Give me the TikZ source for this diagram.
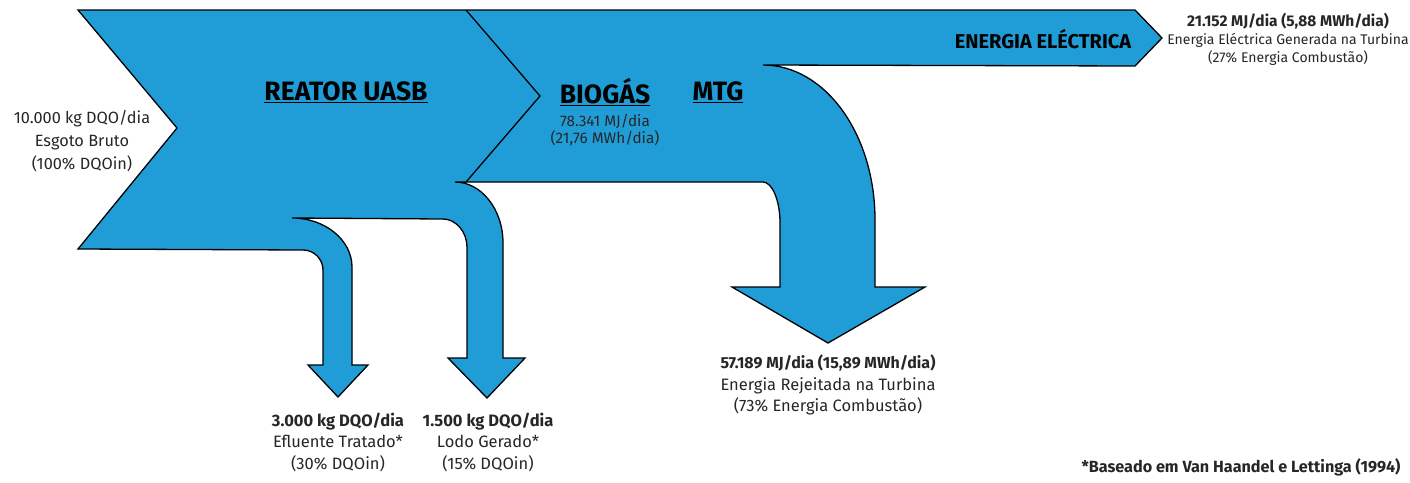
\documentclass[tikz,border=0pt]{standalone}
\usepackage{fontspec}
\setmainfont{Fira Sans}
\definecolor{flowblue}{RGB}{32,157,215}
\begin{document}
\begin{tikzpicture}[x=1pt,y=-1pt,
  flow/.style={fill=flowblue,draw=black,line width=1.3pt,line join=miter},
  lbl/.style={inner sep=0pt,align=center,text=black!85},
  title/.style={inner sep=0pt,font=\fontsize{26.5}{30}\selectfont\bfseries}]
\useasboundingbox (0,0) rectangle (1410,482);
% main sankey outline
\path[flow] (78,10) -- (1135,10) -- (1162,38) -- (1135,66) -- (763,65)
  .. controls (825,65) and (875,134) .. (875,220)
  -- (875,287) -- (925,287) -- (828,343) -- (732,287) -- (780,287) -- (780,223)
  .. controls (780,200) and (772,182) .. (763,182)
  -- (455,182)
  .. controls (481,182) and (503,209) .. (503,243)
  -- (503,358) -- (525,358) -- (487,398) -- (448,358) -- (467,358) -- (467,247)
  .. controls (467,232) and (456,219) .. (443,219)
  -- (292,218)
  .. controls (325,218) and (352,240) .. (352,267)
  -- (352,365) -- (368,365) -- (338,397) -- (308,365) -- (323,365) -- (323,270)
  .. controls (323,259) and (314,250) .. (303,250)
  -- (78,249) -- (177,128) -- cycle;
% reactor chevron tip
\draw[line width=1.3pt,line join=miter] (466,10) -- (540,96) -- (466,182);
% titles
\node[title] (reator) at (346,92) {\underline{REATOR UASB}};
\node[title] (biogas) at (605,92) {\underline{BIOGÁS}};
\node[title] (mtg) at (718,92) {\underline{MTG}};
\node[inner sep=0pt,font=\fontsize{20}{24}\selectfont\bfseries] (elec) at (1043,39) {ENERGIA ELÉCTRICA};
\node[lbl,font=\fontsize{15.3}{16.5}\selectfont] (bioval) at (605,130) {78.341 MJ/dia\\(21,76 MWh/dia)};
% labels
\node[lbl,font=\fontsize{16.3}{23}\selectfont] (inflow) at (82,141) {10.000 kg DQO/dia\\Esgoto Bruto\\(100\% DQOin)};
\node[lbl,font=\fontsize{14}{18}\selectfont] (eleclbl) at (1288,39) {\textbf{\fontsize{15.5}{18}\selectfont 21.152 MJ/dia (5,88 MWh/dia)}\\Energia Eléctrica Generada na Turbina\\(27\% Energia Combustão)};
\node[lbl,font=\fontsize{16.5}{21.5}\selectfont] (rej) at (828,385) {\textbf{\fontsize{16}{21.5}\selectfont 57.189 MJ/dia (15,89 MWh/dia)}\\Energia Rejeitada na Turbina\\(73\% Energia Combustão)};
\node[lbl,font=\fontsize{16.5}{21.5}\selectfont] (eflu) at (338,442) {\textbf{3.000 kg DQO/dia}\\Efluente Tratado*\\(30\% DQOin)};
\node[lbl,font=\fontsize{16.5}{21.5}\selectfont] (lodo) at (488,442) {\textbf{1.500 kg DQO/dia}\\Lodo Gerado*\\(15\% DQOin)};
\node[lbl,font=\fontsize{16.2}{18}\selectfont\bfseries] (note) at (1241,467) {*Baseado em Van Haandel e Lettinga (1994)};
\end{tikzpicture}
\end{document}
